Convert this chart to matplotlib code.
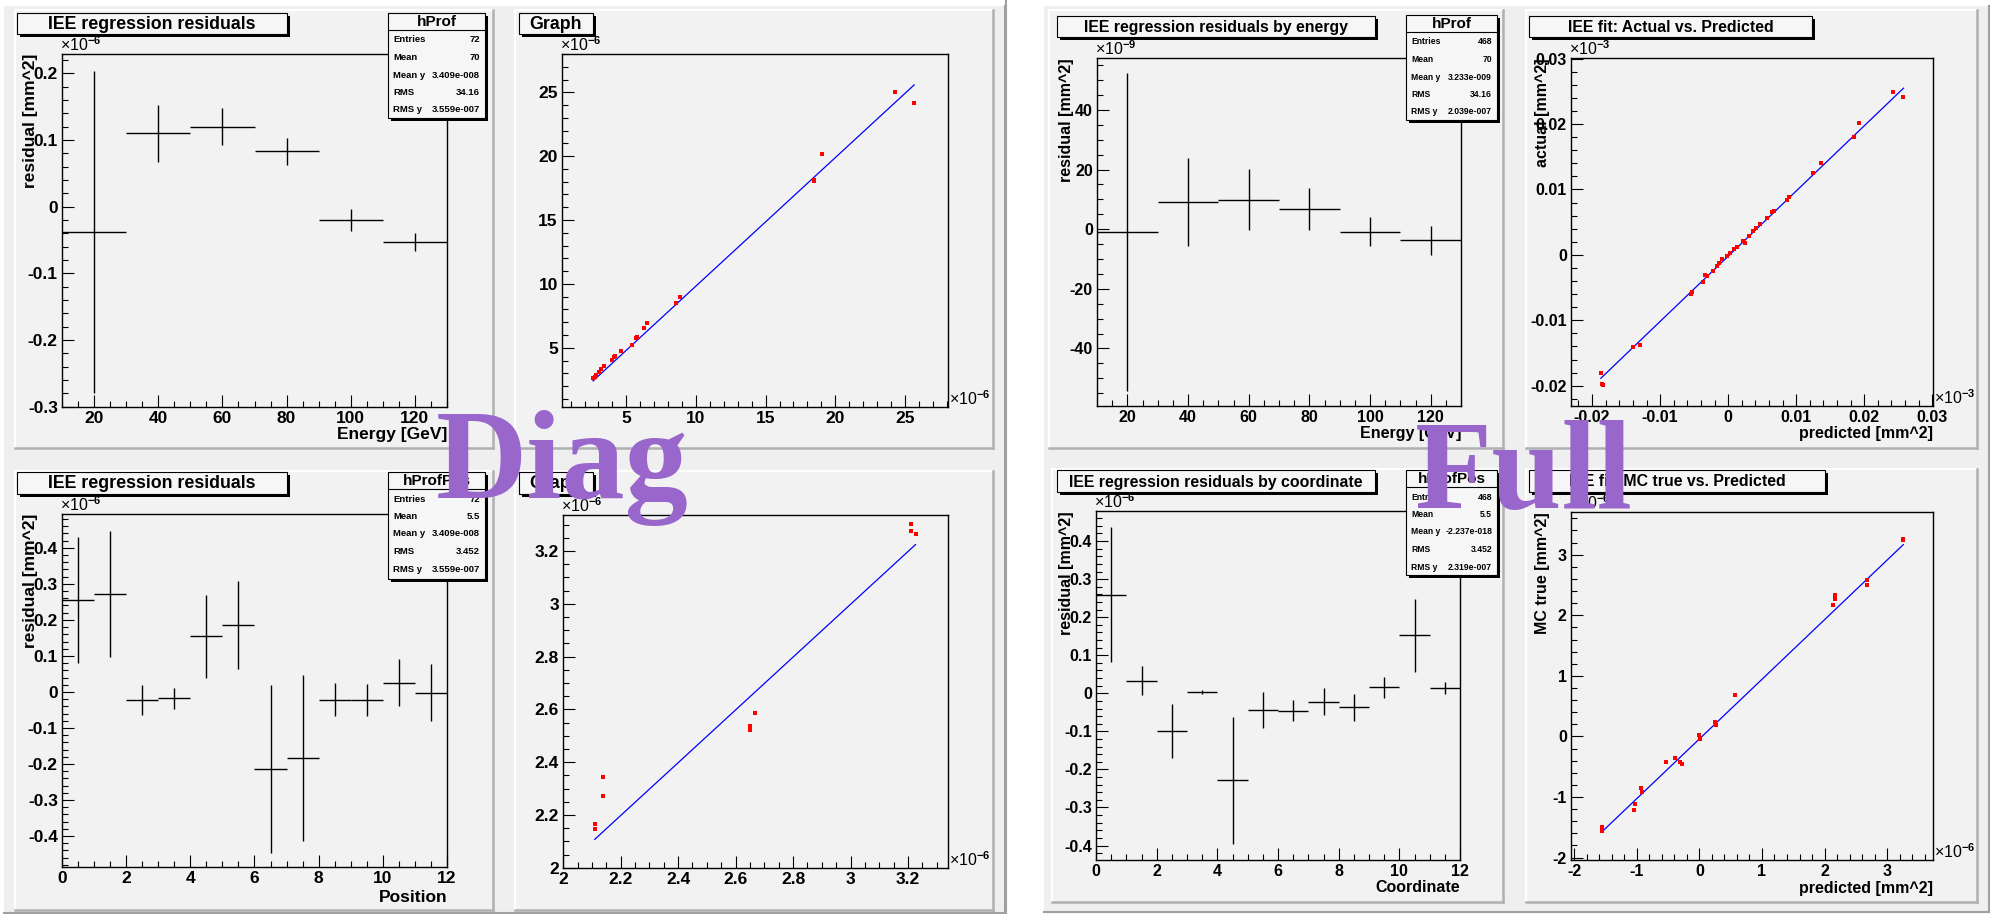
import matplotlib
matplotlib.use("Agg")
import matplotlib.pyplot as plt
import numpy as np
from matplotlib.patches import Rectangle
from matplotlib.ticker import MultipleLocator, FuncFormatter

W, H = 1992, 914
PAD = "#f2f2f2"
PURPLE = "#9966cc"

plt.rcParams["font.family"] = ["Liberation Sans", "DejaVu Sans"]
plt.rcParams["font.weight"] = "bold"
plt.rcParams["mathtext.fontset"] = "custom"
plt.rcParams["mathtext.rm"] = "Liberation Sans"
plt.rcParams["axes.unicode_minus"] = False

# ---- data, in the units shown on each axis (before the x10^n factor) ----
energy_bins = [20, 40, 60, 80, 100, 120]
energy_halfwidth = 10
coord_bins = [0.5, 1.5, 2.5, 3.5, 4.5, 5.5, 6.5, 7.5, 8.5, 9.5, 10.5, 11.5]
coord_halfwidth = 0.5

# Diag: residuals vs energy (x1e-6 mm^2)
diag_energy_resid = [-0.038, 0.110, 0.120, 0.083, -0.020, -0.053]
diag_energy_err = [0.241, 0.043, 0.028, 0.020, 0.017, 0.013]

# Diag: residuals vs position (x1e-6 mm^2)
diag_pos_resid = [0.255, 0.272, -0.023, -0.018, 0.155, 0.186,
                  -0.214, -0.183, -0.021, -0.023, 0.026, -0.002]
diag_pos_err = [0.174, 0.175, 0.042, 0.030, 0.115, 0.121,
                0.233, 0.230, 0.045, 0.045, 0.066, 0.080]

# Diag: graph actual vs predicted (x1e-6)
diag_pred = [24.28, 25.67, 19.08, 18.48, 18.45, 8.87, 8.58, 6.50, 6.24, 5.76, 5.67,
             5.40, 4.64, 4.21, 4.09, 3.97, 3.38, 3.21, 3.02, 2.85, 2.73, 2.61]
diag_actual = [25.05, 24.19, 20.20, 18.13, 18.02, 9.00, 8.53, 6.90, 6.51, 5.81, 5.73,
               5.20, 4.76, 4.37, 4.24, 4.03, 3.56, 3.30, 3.07, 2.86, 2.73, 2.60]
diag_fit = (1.005, -0.22)  # slope, intercept

# Diag: graph MC true vs predicted (x1e-6)
diag_mc_pred = [2.110, 2.110, 2.138, 2.138, 2.650, 2.650, 2.667, 3.209, 3.209, 3.226]
diag_mc_true = [2.165, 2.147, 2.344, 2.272, 2.537, 2.521, 2.585, 3.301, 3.276, 3.264]
diag_mc_fit = (1.0, -0.002)

# Full: residuals vs energy (x1e-9 mm^2)
full_energy_resid = [-0.9, 9.1, 9.9, 6.8, -0.9, -3.7]
full_energy_err = [53.3, 14.6, 10.2, 7.0, 4.9, 4.9]

# Full: residuals vs coordinate (x1e-6 mm^2)
full_coord_resid = [0.259, 0.033, -0.098, 0.003, -0.229, -0.044,
                    -0.046, -0.022, -0.037, 0.016, 0.152, 0.015]
full_coord_err = [0.177, 0.038, 0.071, 0.005, 0.168, 0.048,
                  0.028, 0.035, 0.035, 0.028, 0.097, 0.016]

# Full: actual vs predicted (x1e-3 mm^2)
full_pred = [-0.01872, -0.01848, -0.01838, -0.01393, -0.01295, -0.00552, -0.00538,
             -0.00371, -0.00347, -0.00308, -0.00225, -0.00171, -0.00137, -0.00088,
             -0.00015, 0.00034, 0.00083, 0.00132, 0.00220, 0.00254, 0.00303, 0.00367,
             0.00415, 0.00474, 0.00572, 0.00645, 0.00670, 0.00865, 0.00894, 0.01241,
             0.01369, 0.01843, 0.01916, 0.02429, 0.02576]
full_actual = [-0.01813, -0.01976, -0.01986, -0.01415, -0.01380, -0.00591, -0.00565,
               -0.00407, -0.00305, -0.00321, -0.00244, -0.00168, -0.00117, -0.00066,
               -0.00015, 0.00036, 0.00087, 0.00122, 0.00214, 0.00188, 0.00290, 0.00367,
               0.00418, 0.00479, 0.00570, 0.00652, 0.00672, 0.00845, 0.00886, 0.01247,
               0.01400, 0.01802, 0.02011, 0.02495, 0.02413]
full_fit = (0.997, -0.0002)

# Full: MC true vs predicted (x1e-6 mm^2)
full_mc_pred = [-1.564, -1.553, -1.032, -1.048, -0.941, -0.915, -0.532, -0.383, -0.303,
                -0.277, 0.000, 0.016, 0.255, 0.266, 0.564, 2.128, 2.160, 2.160, 2.676,
                2.676, 3.250, 3.260]
full_mc_true = [-1.498, -1.569, -1.112, -1.222, -0.854, -0.920, -0.424, -0.358, -0.424,
                -0.452, 0.017, -0.050, 0.237, 0.182, 0.689, 2.164, 2.329, 2.263, 2.577,
                2.505, 3.265, 3.238]
full_mc_fit = (0.984, -0.041)

stats_diag_energy = ("hProf", [("Entries", "72"), ("Mean", "70"), ("Mean y", "3.409e-008"),
                               ("RMS", "34.16"), ("RMS y", "3.559e-007")])
stats_diag_pos = ("hProfPos", [("Entries", "72"), ("Mean", "5.5"), ("Mean y", "3.409e-008"),
                               ("RMS", "3.452"), ("RMS y", "3.559e-007")])
stats_full_energy = ("hProf", [("Entries", "468"), ("Mean", "70"), ("Mean y", "3.233e-009"),
                               ("RMS", "34.16"), ("RMS y", "2.039e-007")])
stats_full_coord = ("hProfPos", [("Entries", "468"), ("Mean", "5.5"), ("Mean y", "-2.237e-018"),
                                 ("RMS", "3.452"), ("RMS y", "2.319e-007")])

fig = plt.figure(figsize=(W / 100, H / 100), dpi=100)
fig.patch.set_facecolor("white")

bg = fig.add_axes([0, 0, 1, 1], zorder=0)
ov = fig.add_axes([0, 0, 1, 1], zorder=10)
for a in (bg, ov):
    a.set_xlim(0, W)
    a.set_ylim(H, 0)
    a.axis("off")


def canvas(x0, y0, x1, y1):
    bg.add_patch(Rectangle((x0, y0), x1 - x0, y1 - y0, facecolor="#efefef", edgecolor="none"))
    bg.plot([x0, x1], [y1, y1], color="#a0a0a0", lw=1.5)
    bg.plot([x1, x1], [y0, y1], color="#a0a0a0", lw=1.5)


def pad(x0, y0, x1, y1):
    bg.add_patch(Rectangle((x0, y0), x1 - x0, y1 - y0, facecolor=PAD, edgecolor="none"))
    bg.plot([x0, x1], [y0, y0], color="white", lw=1.5)
    bg.plot([x0, x0], [y0, y1], color="white", lw=1.5)
    bg.plot([x0, x1], [y1, y1], color="#b0b0b0", lw=1.8)
    bg.plot([x1, x1], [y0, y1], color="#b0b0b0", lw=1.8)


def title_box(x0, y0, x1, y1, text, size):
    ov.add_patch(Rectangle((x0 + 3, y0 + 3), x1 - x0, y1 - y0, facecolor="black", edgecolor="none"))
    ov.add_patch(Rectangle((x0, y0), x1 - x0, y1 - y0, facecolor="#f6f6f6", edgecolor="black", lw=0.8))
    ov.text((x0 + x1) / 2, (y0 + y1) / 2 + 1, text, ha="center", va="center",
            fontsize=size, fontweight="bold")


def stats_box(x0, y0, x1, y1, stats, size):
    name, rows = stats
    ov.add_patch(Rectangle((x0 + 3, y0 + 3), x1 - x0, y1 - y0, facecolor="black", edgecolor="none"))
    ov.add_patch(Rectangle((x0, y0), x1 - x0, y1 - y0, facecolor="#f6f6f6", edgecolor="black", lw=0.8))
    ov.plot([x0, x1], [y0 + 17, y0 + 17], color="black", lw=0.8)
    ov.text((x0 + x1) / 2, y0 + 9, name, ha="center", va="center", fontsize=11,
            fontweight="bold")
    for i, (k, v) in enumerate(rows):
        yy = y0 + 27 + i * 17.5
        ov.text(x0 + 5, yy, k, ha="left", va="center", fontsize=size, fontweight="bold")
        ov.text(x1 - 5, yy, v, ha="right", va="center", fontsize=size, fontweight="bold")


def fmt(v, pos):
    if abs(v) < 1e-12:
        return "0"
    return f"{round(v, 6):g}"


def px_axes(x0, y0, x1, y1):
    ax = fig.add_axes([x0 / W, 1 - y1 / H, (x1 - x0) / W, (y1 - y0) / H], zorder=5)
    ax.set_facecolor(PAD)
    return ax


def style(ax, box, xlim, ylim, xt, yt, size, xlabel=None, ylabel=None, ylab_cx=None,
          xlab_cy=None):
    x0, y0, x1, y1 = box
    ax.set_xlim(*xlim)
    ax.set_ylim(*ylim)
    ax.xaxis.set_major_locator(MultipleLocator(xt[0]))
    ax.xaxis.set_minor_locator(MultipleLocator(xt[1]))
    ax.yaxis.set_major_locator(MultipleLocator(yt[0]))
    ax.yaxis.set_minor_locator(MultipleLocator(yt[1]))
    ax.xaxis.set_major_formatter(FuncFormatter(fmt))
    ax.yaxis.set_major_formatter(FuncFormatter(fmt))
    ax.tick_params(which="both", direction="in", top=False, right=False, width=0.8,
                   labelsize=size, pad=3)
    ax.tick_params(which="major", length=8.5)
    ax.tick_params(which="minor", length=4.3)
    for lab in ax.get_xticklabels() + ax.get_yticklabels():
        lab.set_fontweight("bold")
    for s in ax.spines.values():
        s.set_linewidth(1.0)
    if ylabel:
        ax.set_ylabel(ylabel, loc="top", va="center", fontsize=size, fontweight="bold")
        ax.yaxis.set_label_coords((ylab_cx - x0) / (x1 - x0), 1.0)
    if xlabel:
        ax.set_xlabel(xlabel, loc="right", va="center", fontsize=size, fontweight="bold")
        ax.xaxis.set_label_coords(1.0, -(xlab_cy - y1) / (y1 - y0))


def y_expo(box, e):
    x0, y0, x1, y1 = box
    ov.text(x0 - 2, y0 - 3, "×10$^{%d}$" % e, ha="left", va="baseline",
            fontsize=11.5, fontweight="normal")


def x_expo(box, e):
    x0, y0, x1, y1 = box
    ov.text(x1 + 1, y1 - 2, "×10$^{%d}$" % e, ha="left", va="baseline",
            fontsize=11.5, fontweight="normal")


def residual_panel(box, centers, half, vals, errs, **kw):
    ax = px_axes(*box)
    ax.errorbar(centers, vals, xerr=half, yerr=errs, fmt="none", ecolor="black",
                elinewidth=1.0, capsize=0)
    style(ax, box, **kw)
    return ax


def graph_panel(box, xs, ys, fit, **kw):
    ax = px_axes(*box)
    xs = np.array(xs)
    xf = np.array([xs.min(), xs.max()])
    ax.plot(xf, fit[0] * xf + fit[1], color="blue", lw=0.9)
    ax.plot(xs, ys, "s", color="red", ms=2.8, mew=0)
    style(ax, box, **kw)
    return ax


# ---- backgrounds ----
canvas(4, 6, 1005, 913)
bg.plot([1006, 1006], [0, H], color="#a0a0a0", lw=1.5)
canvas(1044, 6, 1989, 912)
for p in [(15, 10, 493, 448), (515, 10, 993, 448), (15, 471, 493, 910), (515, 471, 993, 910),
          (1049, 10, 1503, 448), (1526, 10, 1977, 448), (1052, 469, 1503, 902), (1526, 469, 1977, 902)]:
    pad(*p)

L, R = 12.5, 11.5  # label sizes on the left (Diag) and right (Full) canvases

# ---- Diag ----
b1 = (62, 54, 447, 407)
residual_panel(b1, energy_bins, energy_halfwidth, diag_energy_resid, diag_energy_err,
               xlim=(10, 130), ylim=(-0.3003, 0.229), xt=(20, 5), yt=(0.1, 0.02), size=L,
               xlabel="Energy [GeV]", ylabel="residual [mm^2]", ylab_cx=30, xlab_cy=435)
y_expo(b1, -6)

b2 = (562, 54, 948, 407)
graph_panel(b2, diag_pred, diag_actual, diag_fit,
            xlim=(0.38, 28.1), ylim=(0.36, 28.0), xt=(5, 1), yt=(5, 1), size=L)
y_expo(b2, -6)
x_expo(b2, -6)

b3 = (62, 514, 447, 867)
residual_panel(b3, coord_bins, coord_halfwidth, diag_pos_resid, diag_pos_err,
               xlim=(0, 12), ylim=(-0.486, 0.494), xt=(2, 0.5), yt=(0.1, 0.02), size=L,
               xlabel="Position", ylabel="residual [mm^2]", ylab_cx=30, xlab_cy=897)
y_expo(b3, -6)

b4 = (563, 515, 948, 868)
graph_panel(b4, diag_mc_pred, diag_mc_true, diag_mc_fit,
            xlim=(1.9995, 3.339), ylim=(1.9995, 3.336), xt=(0.2, 0.05), yt=(0.2, 0.05), size=L)
y_expo(b4, -6)
x_expo(b4, -6)

# ---- Full ----
b5 = (1097, 58, 1461, 406)
residual_panel(b5, energy_bins, energy_halfwidth, full_energy_resid, full_energy_err,
               xlim=(10, 130), ylim=(-59.3, 57.4), xt=(20, 5), yt=(20, 5), size=R,
               xlabel="Energy [GeV]", ylabel="residual [mm^2]", ylab_cx=1067, xlab_cy=434)
y_expo(b5, -9)

b6 = (1571, 58, 1933, 406)
graph_panel(b6, full_pred, full_actual, full_fit,
            xlim=(-0.0231, 0.0301), ylim=(-0.0231, 0.0301), xt=(0.01, 0.002), yt=(0.01, 0.002),
            size=R, xlabel="predicted [mm^2]", ylabel="actual [mm^2]", ylab_cx=1542, xlab_cy=434)
y_expo(b6, -3)
x_expo(b6, -3)

b7 = (1096, 511, 1460, 860)
residual_panel(b7, coord_bins, coord_halfwidth, full_coord_resid, full_coord_err,
               xlim=(0, 12), ylim=(-0.438, 0.479), xt=(2, 0.5), yt=(0.1, 0.02), size=R,
               xlabel="Coordinate", ylabel="residual [mm^2]", ylab_cx=1067, xlab_cy=888)
y_expo(b7, -6)

b8 = (1571, 512, 1933, 860)
graph_panel(b8, full_mc_pred, full_mc_true, full_mc_fit,
            xlim=(-2.053, 3.734), ylim=(-2.04, 3.705), xt=(1, 0.2), yt=(1, 0.2), size=R,
            xlabel="predicted [mm^2]", ylabel="MC true [mm^2]", ylab_cx=1542, xlab_cy=888)
y_expo(b8, -6)
x_expo(b8, -6)

# ---- title and stats boxes ----
title_box(17, 13, 287, 34, "IEE regression residuals", 12.8)
title_box(519, 13, 593, 34, "Graph", 12.8)
title_box(17, 472, 287, 494, "IEE regression residuals", 12.8)
title_box(519, 472, 593, 494, "Graph", 12.8)
title_box(1057, 16, 1375, 37, "IEE regression residuals by energy", 11.4)
title_box(1529, 16, 1812, 37, "IEE fit: Actual vs. Predicted", 11.4)
title_box(1057, 470, 1375, 492, "IEE regression residuals by coordinate", 11.4)
title_box(1529, 470, 1825, 492, "IEE fit: MC true vs. Predicted", 11.4)

stats_box(388, 13, 485, 118, stats_diag_energy, 6.8)
stats_box(388, 472, 485, 579, stats_diag_pos, 6.8)
stats_box(1406, 15, 1497, 120, stats_full_energy, 6.2)
stats_box(1406, 470, 1497, 575, stats_full_coord, 6.2)

# ---- overlay labels ----
serif = ["Liberation Serif", "DejaVu Serif"]
ov.text(436, 498, "Diag", family=serif, fontweight="bold", fontsize=91,
        color=PURPLE, ha="left", va="baseline", zorder=20)
ov.text(1415, 508, "Full", family=serif, fontweight="bold", fontsize=91,
        color=PURPLE, ha="left", va="baseline", zorder=20)

fig.savefig("out.png", dpi=100, facecolor="white")
